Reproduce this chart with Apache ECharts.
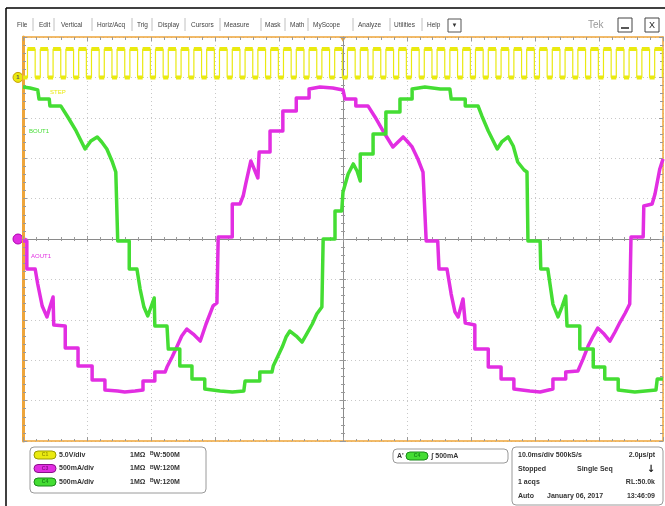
<!DOCTYPE html>
<html><head><meta charset="utf-8">
<script src="https://cdn.jsdelivr.net/npm/echarts@6/dist/echarts.min.js"></script>
<style>html,body{margin:0;padding:0;background:#fff}#c{width:665px;height:506px}</style>
</head><body><div id="c"></div>
<script>
// ---- time base: 10 ms/div, trigger at centre (ms) ----
const timeMin = -50, timeMax = 50, timeDiv = 10;
// ---- C3 / C4: 500 mA/div, ground at centre ----
const curMin = -2500, curMax = 2500, curDiv = 500;
// ---- C1: 5 V/div, ground 4 div above centre ----
const voltMin = -45, voltMax = 5, voltDiv = 5;

// C1 (STEP clock) edges, ms ; levels in V
const clkRise = [-49.3,-47.3,-45.3,-43.3,-41.3,-39.3,-37.3,-35.3,-33.3,-31.3,-29.3,-27.3,-25.3,-23.3,-21.3,-19.3,-17.3,-15.3,-13.3,-11.3,-9.3,-7.3,-5.3,-3.3,-1.3,0.7,2.7,4.7,6.7,8.7,10.7,12.7,14.7,16.7,18.7,20.7,22.7,24.7,26.7,28.7,30.7,32.7,34.7,36.7,38.7,40.7,42.7,44.7,46.7,48.7];
const clkFall = [-48.1,-46.1,-44.1,-42.1,-40.1,-38.1,-36.1,-34.1,-32.1,-30.1,-28.1,-26.1,-24.1,-22.1,-20.1,-18.1,-16.1,-14.1,-12.1,-10.1,-8.1,-6.1,-4.1,-2.1,-0.1,1.9,3.9,5.9,7.9,9.9,11.9,13.9,15.9,17.9,19.9,21.9,23.9,25.9,27.9,29.9,31.9,33.9,35.9,37.9,39.9,41.9,43.9,45.9,47.9,49.9];
const clkLow = 0, clkHigh = 3.5;

// C3 AOUT1 current [ms, mA]
const aout1 = [[-50,-25],[-49.4,-25],[-49.4,-371],[-48.1,-371],[-47.7,-557],[-47.0,-829],[-46.25,-965],[-45.8,-842],[-45.3,-718],[-45.2,-1065],[-43.4,-1077],[-43.4,-1349],[-41.4,-1349],[-41.4,-1572],[-39.2,-1572],[-39.2,-1746],[-37.2,-1746],[-37.2,-1869],[-35.2,-1882],[-34.1,-1894],[-32.5,-1882],[-31.25,-1869],[-31.25,-1758],[-29.4,-1758],[-29.4,-1647],[-27.8,-1647],[-27.5,-1585],[-26.7,-1461],[-25.9,-1325],[-25.2,-1201],[-24.4,-1114],[-23.4,-1176],[-22.3,-1263],[-21.4,-1052],[-20.3,-829],[-19.7,-792],[-19.5,25],[-17.3,25],[-17.3,433],[-16.1,433],[-15.6,532],[-15.2,681],[-14.4,966],[-13.75,842],[-13.3,755],[-13.1,1077],[-11.4,1077],[-11.4,1337],[-9.4,1337],[-9.4,1585],[-7.3,1585],[-7.3,1746],[-5.3,1746],[-5.3,1857],[-3.6,1882],[-1.6,1869],[0,1845],[0.3,1845],[0.3,1733],[2.0,1733],[2.0,1647],[3.9,1647],[5.0,1510],[6.25,1337],[7.8,1139],[8.6,1201],[9.4,1263],[10.0,1213],[10.8,1139],[11.7,990],[12.5,829],[12.8,805],[13.0,-25],[14.8,-25],[15.0,-371],[16.25,-371],[16.9,-681],[17.5,-904],[18.0,-965],[18.75,-743],[19.1,-1040],[20.6,-1065],[20.6,-1362],[22.7,-1362],[22.7,-1585],[24.7,-1585],[24.7,-1733],[26.7,-1733],[26.7,-1857],[29.2,-1882],[30.8,-1894],[32.8,-1857],[32.8,-1733],[34.8,-1733],[34.8,-1647],[36.7,-1634],[37.5,-1486],[38.3,-1325],[39.1,-1201],[39.8,-1102],[40.8,-1176],[41.7,-1263],[42.5,-1151],[43.3,-1028],[44.1,-916],[44.8,-805],[45.0,25],[46.9,25],[47.0,409],[48.3,433],[48.75,557],[49.5,867],[50,990]];

// C4 BOUT1 current [ms, mA]
const bout1 = [[-50,1882],[-48.9,1869],[-47.7,1845],[-47.5,1733],[-45.9,1733],[-45.8,1647],[-44.1,1647],[-43.0,1510],[-41.7,1337],[-40.3,1114],[-39.4,1213],[-38.4,1263],[-37.7,1201],[-36.9,1114],[-36.1,966],[-35.5,829],[-35.3,805],[-35.2,-25],[-33.4,-25],[-33.4,-371],[-32.2,-371],[-31.7,-619],[-31.1,-842],[-30.5,-953],[-30.0,-842],[-29.5,-730],[-29.4,-1077],[-27.5,-1077],[-27.3,-1362],[-25.5,-1362],[-25.5,-1572],[-23.6,-1572],[-23.6,-1733],[-21.6,-1733],[-21.6,-1857],[-19.2,-1882],[-17.3,-1894],[-15.5,-1882],[-15.3,-1758],[-13.0,-1758],[-13.0,-1647],[-11.1,-1647],[-10.9,-1572],[-9.5,-1337],[-8.9,-1213],[-8.3,-1139],[-7.3,-1201],[-6.4,-1275],[-5.6,-1164],[-4.8,-1052],[-4.1,-929],[-3.3,-842],[-3.1,0],[-1.25,0],[-1.25,347],[-0.2,347],[0,582],[0.8,805],[1.6,929],[2.2,842],[2.7,718],[2.7,1052],[4.7,1052],[4.7,1300],[6.7,1300],[6.7,1572],[8.9,1572],[8.9,1733],[10.8,1733],[10.8,1857],[12.8,1882],[15.2,1857],[16.7,1857],[16.9,1733],[19.1,1733],[19.1,1647],[21.1,1647],[21.7,1523],[22.7,1337],[24.1,1114],[24.8,1201],[25.8,1263],[26.6,1151],[27.3,953],[28.3,854],[28.75,829],[28.9,-25],[30.8,-25],[30.9,-371],[32.0,-371],[32.8,-805],[33.6,-965],[34.2,-842],[34.8,-706],[35.0,-1077],[37.0,-1077],[37.0,-1362],[39.1,-1362],[39.1,-1585],[40.9,-1585],[40.9,-1733],[43.0,-1733],[43.0,-1869],[45.6,-1894],[48.9,-1869],[49.1,-1733],[50,-1733]];

// UI texts
const menuItems = ['File','Edit','Vertical','Horiz/Acq','Trig','Display','Cursors','Measure','Mask','Math','MyScope','Analyze','Utilities','Help'];
const chanRows = [['C1','5.0V/div','500M'],['C3','500mA/div','120M'],['C4','500mA/div','120M']];
const infoRows = [['10.0ms/div 500kS/s','','2.0µs/pt'],['Stopped','Single Seq',''],['1 acqs','','RL:50.0k'],['Auto','January 06, 2017','13:46:09']];

// ---- build clock step data from edges ----
const clkData = [[timeMin, clkLow]];
const clkFlat = [[timeMin, clkLow]];
for (let i = 0; i < clkRise.length; i++) {
  clkData.push([clkRise[i], clkLow], [clkRise[i], clkHigh], [clkFall[i], clkHigh], [clkFall[i], clkLow]);
  clkFlat.push([clkRise[i], clkLow], null, [clkRise[i], clkHigh], [clkFall[i], clkHigh], null, [clkFall[i], clkLow]);
}
clkData.push([timeMax, clkLow]);
clkFlat.push([timeMax, clkLow]);

const C_Y = '#eaea10', C_M = '#e22ee2', C_G = '#44dd33', ORANGE = '#eea53a';
const FONT = 'Liberation Sans';

const chart = echarts.init(document.getElementById('c'));
const tickStyle = {color:'#9a9a9a', width:1};
function xAx(extra){ return Object.assign({type:'value', min:timeMin, max:timeMax, interval:timeDiv, axisLabel:{show:false}, splitLine:{show:false}}, extra); }
function yAx(extra){ return Object.assign({type:'value', min:curMin, max:curMax, interval:curDiv, axisLabel:{show:false}, splitLine:{show:false}}, extra); }

chart.setOption({
  animation:false,
  backgroundColor:'#ffffff',
  grid:{left:23, top:37, width:640, height:404, show:false},
  xAxis:[
    xAx({position:'bottom', axisLine:{onZero:false, lineStyle:{color:ORANGE, width:1.5}}, axisTick:{inside:true, length:4, lineStyle:tickStyle}, minorTick:{show:true, splitNumber:5, length:2, lineStyle:tickStyle}, splitLine:{show:true, lineStyle:{color:'#c8c8c8', type:[1,3], width:1}}}),
    xAx({position:'top', axisLine:{onZero:false, lineStyle:{color:ORANGE, width:1.5}}, axisTick:{inside:true, length:4, lineStyle:tickStyle}, minorTick:{show:true, splitNumber:5, length:3, lineStyle:tickStyle}}),
    xAx({position:'bottom', axisLine:{onZero:true, onZeroAxisIndex:0, lineStyle:{color:'#8a8a8a', width:1}}, axisTick:{inside:true, length:3, lineStyle:tickStyle}, minorTick:{show:true, splitNumber:5, length:2, lineStyle:tickStyle}}),
    xAx({position:'bottom', axisLine:{onZero:true, onZeroAxisIndex:0, lineStyle:{color:'#8a8a8a', width:1}}, axisTick:{inside:false, length:3, lineStyle:tickStyle}, minorTick:{show:true, splitNumber:5, length:2, lineStyle:tickStyle}})
  ],
  yAxis:[
    yAx({position:'left', axisLine:{onZero:false, lineStyle:{color:ORANGE, width:3}}, axisTick:{inside:true, length:4, lineStyle:tickStyle}, minorTick:{show:true, splitNumber:5, length:3, lineStyle:tickStyle}, splitLine:{show:true, lineStyle:{color:'#c8c8c8', type:[1,3], width:1}}}),
    yAx({position:'right', axisLine:{onZero:false, lineStyle:{color:ORANGE, width:1.5}}, axisTick:{inside:true, length:4, lineStyle:tickStyle}, minorTick:{show:true, splitNumber:5, length:3, lineStyle:tickStyle}}),
    yAx({position:'left', axisLine:{onZero:true, onZeroAxisIndex:0, lineStyle:{color:'#8a8a8a', width:1}}, axisTick:{inside:true, length:3, lineStyle:tickStyle}, minorTick:{show:true, splitNumber:5, length:2, lineStyle:tickStyle}}),
    yAx({position:'left', axisLine:{onZero:true, onZeroAxisIndex:0, lineStyle:{color:'#8a8a8a', width:1}}, axisTick:{inside:false, length:3, lineStyle:tickStyle}, minorTick:{show:true, splitNumber:5, length:2, lineStyle:tickStyle}}),
    {type:'value', min:voltMin, max:voltMax, interval:voltDiv, show:false, axisLine:{onZero:false}}
  ],
  series:[
    {type:'line', name:'C1', xAxisIndex:0, yAxisIndex:4, data:clkData, showSymbol:false, lineStyle:{color:C_Y, width:1.2}, z:3},
    {type:'line', name:'C1 levels', xAxisIndex:0, yAxisIndex:4, data:clkFlat, connectNulls:false, showSymbol:false, lineStyle:{color:C_Y, width:4}, z:3},
    {type:'line', name:'AOUT1', xAxisIndex:0, yAxisIndex:0, data:aout1, showSymbol:false, lineStyle:{color:C_M, width:3.5, join:'round'}, z:4},
    {type:'line', name:'BOUT1', xAxisIndex:0, yAxisIndex:0, data:bout1, showSymbol:false, lineStyle:{color:C_G, width:3.5, join:'round'}, z:5}
  ]
});

// ---- UI graphics ----
const g = [];
g.push({type:'line', shape:{x1:6, y1:8, x2:665, y2:8}, style:{stroke:'#000', lineWidth:1.5}});
g.push({type:'line', shape:{x1:6, y1:8, x2:6, y2:506}, style:{stroke:'#000', lineWidth:1.5}});
const menuX = [17,39,61,97,137,158,191,224,265,290,313,358,394,427];
const sepX = [33,54,92,132,152,185,220,261,285,308,353,390,422];
menuItems.forEach((m,i)=>g.push({type:'text', x:menuX[i], y:25, style:{text:m, font:'6.5px '+FONT, fill:'#444', textVerticalAlign:'middle'}}));
sepX.forEach(x=>g.push({type:'line', shape:{x1:x, y1:18, x2:x, y2:31}, style:{stroke:'#c0c0c0', lineWidth:1}}));
g.push({type:'rect', shape:{x:448, y:19, width:13, height:13}, style:{fill:'#fff', stroke:'#555', lineWidth:1}});
g.push({type:'text', x:454.5, y:25.5, style:{text:'▼', font:'6px '+FONT, fill:'#333', textAlign:'center', textVerticalAlign:'middle'}});
g.push({type:'text', x:588, y:25, style:{text:'Tek', font:'10px '+FONT, fill:'#9a9a9a', textVerticalAlign:'middle'}});
g.push({type:'rect', shape:{x:618, y:18, width:14, height:14}, style:{fill:'#fff', stroke:'#444', lineWidth:1}});
g.push({type:'line', shape:{x1:621, y1:28, x2:629, y2:28}, style:{stroke:'#222', lineWidth:1.5}});
g.push({type:'rect', shape:{x:645, y:18, width:14, height:14}, style:{fill:'#fff', stroke:'#444', lineWidth:1}});
g.push({type:'text', x:652, y:25.5, style:{text:'X', font:'9px '+FONT, fill:'#222', textAlign:'center', textVerticalAlign:'middle'}});

g.push({type:'text', x:50, y:92, style:{text:'STEP', font:'6px '+FONT, fill:C_Y, textVerticalAlign:'middle'}});
g.push({type:'text', x:29, y:131, style:{text:'BOUT1', font:'6px '+FONT, fill:C_G, textVerticalAlign:'middle'}});
g.push({type:'text', x:31, y:256, style:{text:'AOUT1', font:'6px '+FONT, fill:C_M, textVerticalAlign:'middle'}});

g.push({type:'rect', shape:{x:30, y:447, width:176, height:46, r:4}, style:{fill:'#fff', stroke:'#9a9a9a', lineWidth:1}});
const pillCols = [[C_Y,'#9a9a00'],[C_M,'#8a108a'],[C_G,'#1a8a1a']];
const rowY = [455, 468.5, 482];
chanRows.forEach((r,i)=>{
  g.push({type:'rect', shape:{x:34, y:rowY[i]-4, width:22, height:8, r:4}, style:{fill:pillCols[i][0], stroke:pillCols[i][1], lineWidth:1}});
  g.push({type:'text', x:45, y:rowY[i], style:{text:r[0], font:'bold 5px '+FONT, fill:pillCols[i][1], textAlign:'center', textVerticalAlign:'middle'}});
  g.push({type:'text', x:59, y:rowY[i], style:{text:r[1], font:'bold 7px '+FONT, fill:'#333', textVerticalAlign:'middle'}});
  g.push({type:'text', x:130, y:rowY[i], style:{text:'1MΩ', font:'bold 7px '+FONT, fill:'#333', textVerticalAlign:'middle'}});
  g.push({type:'text', x:150, y:rowY[i], style:{text:'{b|B}W:'+r[2], font:'bold 7px '+FONT, fill:'#333', textVerticalAlign:'middle', rich:{b:{fontSize:5, fontWeight:'bold', fontFamily:FONT, fill:'#333', verticalAlign:'top'}}}});
});
g.push({type:'rect', shape:{x:393, y:449, width:115, height:14, r:4}, style:{fill:'#fff', stroke:'#9a9a9a', lineWidth:1}});
g.push({type:'text', x:397, y:456, style:{text:"A'", font:'bold 7px '+FONT, fill:'#333', textVerticalAlign:'middle'}});
g.push({type:'rect', shape:{x:406, y:452, width:22, height:8, r:4}, style:{fill:C_G, stroke:'#1a8a1a', lineWidth:1}});
g.push({type:'text', x:417, y:456, style:{text:'C4', font:'bold 5px '+FONT, fill:'#1a8a1a', textAlign:'center', textVerticalAlign:'middle'}});
g.push({type:'text', x:431, y:456, style:{text:'ʃ 500mA', font:'bold 7px '+FONT, fill:'#333', textVerticalAlign:'middle'}});
g.push({type:'rect', shape:{x:512, y:447, width:151, height:58, r:4}, style:{fill:'#fff', stroke:'#9a9a9a', lineWidth:1}});
const infoY = [455, 469, 482, 496];
infoRows.forEach((r,i)=>{
  g.push({type:'text', x:518, y:infoY[i], style:{text:r[0], font:'bold 7px '+FONT, fill:'#333', textVerticalAlign:'middle'}});
  if (r[1]) g.push({type:'text', x:i===3?547:577, y:infoY[i], style:{text:r[1], font:'bold 7px '+FONT, fill:'#333', textVerticalAlign:'middle'}});
  if (r[2]) g.push({type:'text', x:655, y:infoY[i], style:{text:r[2], font:'bold 7px '+FONT, fill:'#333', textAlign:'right', textVerticalAlign:'middle'}});
});
g.push({type:'text', x:651, y:469, style:{text:'↓', font:'bold 10px DejaVu Sans', fill:'#111', textAlign:'center', textVerticalAlign:'middle'}});

const yGnd1 = chart.convertToPixel({yAxisIndex:4}, 0);
const yGnd3 = chart.convertToPixel({yAxisIndex:0}, 0);
const xTrig = chart.convertToPixel({xAxisIndex:0}, 0);
g.push({type:'circle', shape:{cx:18, cy:yGnd1, r:5}, style:{fill:C_Y, stroke:'#c8a000', lineWidth:1}});
g.push({type:'text', x:18, y:yGnd1, style:{text:'1', font:'bold 6px '+FONT, fill:'#555', textAlign:'center', textVerticalAlign:'middle'}});
g.push({type:'polygon', shape:{points:[[23,yGnd1-2.5],[27,yGnd1],[23,yGnd1+2.5]]}, style:{fill:'#c8a000'}});
g.push({type:'circle', shape:{cx:18, cy:yGnd3, r:5}, style:{fill:C_M, stroke:'#b000b0', lineWidth:1}});
g.push({type:'polygon', shape:{points:[[23,yGnd3-2.5],[28,yGnd3],[23,yGnd3+2.5]]}, style:{fill:C_M}});
g.push({type:'polygon', shape:{points:[[xTrig-3,37],[xTrig+3,37],[xTrig,42]]}, style:{fill:ORANGE}});

chart.setOption({graphic:g});
</script></body></html>
